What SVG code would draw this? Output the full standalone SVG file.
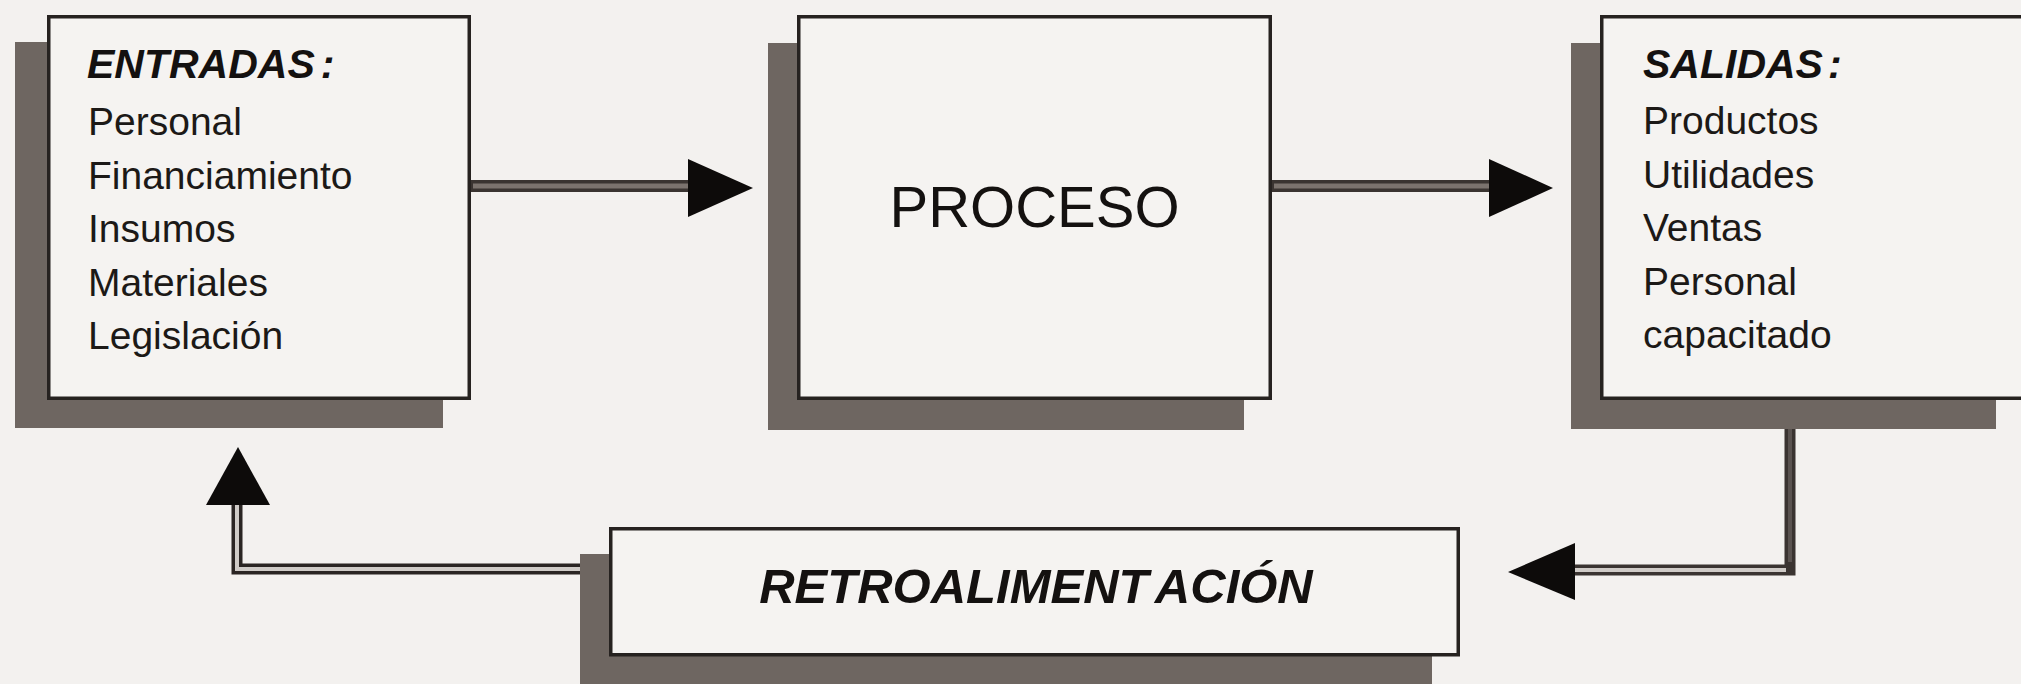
<svg xmlns="http://www.w3.org/2000/svg" width="2021" height="684" viewBox="0 0 2021 684">
<style>
.shadow{fill:#6e6661}
.box{fill:#f5f3f1;stroke:#262220;stroke-width:3.5}
.item{font-family:"Liberation Sans",Arial,sans-serif;font-size:39px;fill:#1c1917}
.head{font-family:"Liberation Sans",Arial,sans-serif;font-size:41px;font-weight:bold;font-style:italic;fill:#141110}
.title{font-family:"Liberation Sans",Arial,sans-serif;font-size:58px;fill:#141110}
.retro{font-family:"Liberation Sans",Arial,sans-serif;font-size:49px;font-weight:bold;font-style:italic;fill:#141110}
.thick-o{fill:none;stroke:#3a3431;stroke-width:12}
.thick-i{fill:none;stroke:#7b736e;stroke-width:5}
.dbl-o{fill:none;stroke:#2a2523;stroke-width:11}
.dbl-i{fill:none;stroke:#cfcbc7;stroke-width:4}
.head-arrow{fill:#0d0b0a}
</style>
<rect width="2021" height="684" fill="#f3f1ef"/>

<g id="connectors">
  <line class="thick-o" x1="471" y1="186" x2="692" y2="186"/>
  <line class="thick-i" x1="473" y1="186" x2="692" y2="186"/>
  <polygon class="head-arrow" points="688,159 688,217 753,188"/>
  <line class="thick-o" x1="1272" y1="186" x2="1493" y2="186"/>
  <line class="thick-i" x1="1274" y1="186" x2="1493" y2="186"/>
  <polygon class="head-arrow" points="1489,159 1489,217 1553,188"/>
  <polyline class="thick-o" points="1790,400 1790,570 1570,570" style="stroke-width:11"/>
  <line class="thick-i" x1="1790" y1="402" x2="1790" y2="562" style="stroke:#5a5350;stroke-width:4"/>
  <line class="dbl-i" x1="1786" y1="570" x2="1572" y2="570"/>
  <polygon class="head-arrow" points="1575,543 1575,600 1508,572"/>
  <polyline class="dbl-o" points="609,569 237,569 237,502"/>
  <polyline class="dbl-i" points="609,569 237,569 237,502"/>
  <polygon class="head-arrow" points="206,505 270,505 238,447"/>
</g>

<g id="node-entradas">
  <rect class="shadow" x="15" y="42" width="428" height="386"/>
  <rect class="box" x="48.75" y="16.75" width="420.5" height="381.5"/>
  <text class="head" x="87" y="78">ENTRADAS<tspan dx="6">:</tspan></text>
  <text class="item" x="88" y="135">Personal</text>
  <text class="item" x="88" y="188.5">Financiamiento</text>
  <text class="item" x="88" y="242">Insumos</text>
  <text class="item" x="88" y="295.5">Materiales</text>
  <text class="item" x="88" y="349">Legislación</text>
</g>

<g id="node-proceso">
  <rect class="shadow" x="768" y="43" width="476" height="387"/>
  <rect class="box" x="798.75" y="16.75" width="471.5" height="381.5"/>
  <text class="title" x="1034.5" y="227" text-anchor="middle">PROCESO</text>
</g>

<g id="node-salidas">
  <rect class="shadow" x="1571" y="43" width="425" height="386"/>
  <rect class="box" x="1601.75" y="16.75" width="430" height="381.5"/>
  <text class="head" x="1643" y="78">SALIDAS<tspan dx="5">:</tspan></text>
  <text class="item" x="1643" y="134">Productos</text>
  <text class="item" x="1643" y="187.5">Utilidades</text>
  <text class="item" x="1643" y="241">Ventas</text>
  <text class="item" x="1643" y="294.5">Personal</text>
  <text class="item" x="1643" y="348">capacitado</text>
</g>

<g id="node-retroalimentacion">
  <rect class="shadow" x="580" y="554" width="852" height="140"/>
  <rect class="box" x="610.75" y="528.75" width="847.5" height="126"/>
  <text class="retro" x="1036" y="603" text-anchor="middle">RETROALIMENT<tspan dx="10">ACIÓN</tspan></text>
</g>
</svg>
